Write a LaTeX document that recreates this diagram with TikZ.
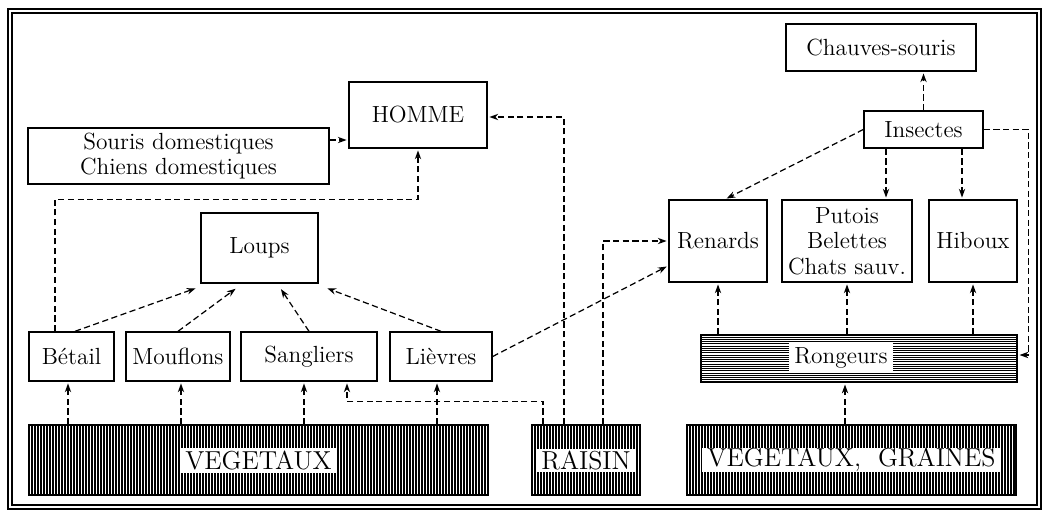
\documentclass[tikz,border=0pt]{standalone}
\usepackage{tikz}
\usetikzlibrary{arrows.meta}

\begin{document}
\begin{tikzpicture}[x=0.02cm,y=-0.02cm,
    font=\fontsize{13.3}{14.5}\selectfont,
    box/.style={draw,line width=0.8pt,align=center,inner sep=1pt},
    arr/.style={dash pattern=on 3.5pt off 2pt,line width=0.7pt,shorten >=1pt,
      -{Stealth[length=5pt,width=3.6pt]}},
    vhatch/.style={draw,line width=0.9pt,minimum height=1.4cm,
      path picture={\foreach \k in {1,...,160}
        \draw[line width=0.65pt] ([xshift=\k*0.06cm]path picture bounding box.south west)
          -- ([xshift=\k*0.06cm]path picture bounding box.north west);}},
    hhatch/.style={draw,line width=0.9pt,minimum height=0.94cm,
      path picture={\foreach \k in {1,...,20}
        \draw[line width=0.55pt] ([yshift=\k*0.045cm]path picture bounding box.south west)
          -- ([yshift=\k*0.045cm]path picture bounding box.south east);}},
    lbl/.style={fill=white,inner ysep=0pt,inner xsep=3pt},
    biglbl/.style={lbl,font=\fontsize{14.8}{16}\selectfont}]
  \useasboundingbox (0,0) rectangle (1050,514);
  % frame
  \draw[line width=1.3pt] (8,9) rectangle (1041,509);
  \draw[line width=0.6pt] (12,13) rectangle (1037,505);

  % left part
  \node[box,minimum width=2.76cm,minimum height=1.32cm] (homme) at (418,115) {HOMME};
  \node[box,minimum width=6.02cm,minimum height=1.12cm] (souris) at (178.5,156)
    {Souris domestiques\\Chiens domestiques};
  \node[box,minimum width=2.34cm,minimum height=1.4cm] (loups) at (259.5,248) {Loups};
  \node[box,minimum width=1.7cm,minimum height=0.98cm] (betail) at (71.5,356.5) {Bétail};
  \node[box,minimum width=2.08cm,minimum height=0.98cm] (mouflons) at (178,356.5) {Mouflons};
  \node[box,minimum width=2.72cm,minimum height=0.98cm] (sangliers) at (309,356.5) {Sangliers};
  \node[box,minimum width=2.04cm,minimum height=0.98cm] (lievres) at (441,356.5) {Lièvres};
  \node[vhatch,minimum width=9.18cm] (vegetaux) at (258.5,460) {};
  \node[biglbl,minimum height=0.5cm] (vegtxt) at (vegetaux) {VEGETAUX};
  \node[vhatch,minimum width=2.16cm] (raisin) at (586,460) {};
  \node[biglbl,minimum height=0.46cm] (raisintxt) at (raisin) {RAISIN};

  % right part
  \node[box,minimum width=3.8cm,minimum height=0.94cm] (chauves) at (881,47.5) {Chauves-souris};
  \node[box,minimum width=2.38cm,minimum height=0.74cm] (insectes) at (923.5,129.5) {Insectes};
  \node[box,minimum width=1.96cm,minimum height=1.64cm] (renards) at (718,241) {Renards};
  \node[box,minimum width=2.6cm,minimum height=1.64cm] (putois) at (847,241)
    {Putois\\Belettes\\Chats sauv.};
  \node[box,minimum width=1.76cm,minimum height=1.64cm] (hiboux) at (973,241) {Hiboux};
  \node[hhatch,minimum width=6.32cm] (rongeurs) at (859,358.5) {};
  \node[lbl,minimum width=2.08cm,minimum height=0.6cm] (rongtxt) at (841,358) {Rongeurs};
  \node[vhatch,minimum width=6.58cm] (graines) at (851.5,460) {};
  \node[biglbl,minimum height=0.46cm] (grainestxt) at (graines) {VEGETAUX,\ \ GRAINES};

  % arrows, left
  \draw[arr] ([yshift=0.32cm]souris.east) -- ([yshift=0.32cm]souris.east -| homme.west);
  \draw[arr] ([xshift=-0.33cm]betail.north) -- ++(0,-132) -| (homme.south);
  \draw[arr] ([xshift=0.07cm]betail.north) -- ([shift={(-0.06cm,-0.08cm)}]loups.south west);
  \draw[arr] (mouflons.north) -- ([shift={(-0.45cm,-0.08cm)}]loups.south);
  \draw[arr] (sangliers.north) -- ([shift={(0.41cm,-0.08cm)}]loups.south);
  \draw[arr] (lievres.north) -- ([shift={(0.14cm,-0.08cm)}]loups.south east);
  \draw[arr] ([xshift=-0.07cm]betail.south |- vegetaux.north) -- ([xshift=-0.07cm]betail.south);
  \draw[arr] ([xshift=0.06cm]mouflons.south |- vegetaux.north) -- ([xshift=0.06cm]mouflons.south);
  \draw[arr] ([xshift=-0.1cm]sangliers.south |- vegetaux.north) -- ([xshift=-0.1cm]sangliers.south);
  \draw[arr] ([xshift=-0.08cm]lievres.south |- vegetaux.north) -- ([xshift=-0.08cm]lievres.south);
  \draw[arr] ([xshift=-0.86cm]raisin.north) -- ++(0,-23) -| ([xshift=0.76cm]sangliers.south);
  \draw[arr] ([xshift=-0.44cm]raisin.north) |- ([yshift=-0.04cm]homme.east);
  \draw[arr] ([xshift=0.34cm]raisin.north) |- (renards.west);
  \draw[arr] (lievres.east) -- ([yshift=0.34cm]renards.south west);

  % arrows, right
  \draw[arr] (insectes.west) -- ([xshift=0.14cm]renards.north);
  \draw[arr] ([xshift=-0.75cm]insectes.south) -- ([xshift=-0.75cm]insectes.south |- putois.north);
  \draw[arr] ([xshift=0.77cm]insectes.south) -- ([xshift=0.77cm]insectes.south |- hiboux.north);
  \draw[arr] (insectes.north) -- (insectes.north |- chauves.south);
  \draw[arr] (insectes.east) -- ++(45,0) |- ([yshift=0.07cm]rongeurs.east);
  \draw[arr] (renards.south |- rongeurs.north) -- (renards.south);
  \draw[arr] (putois.south |- rongeurs.north) -- (putois.south);
  \draw[arr] (hiboux.south |- rongeurs.north) -- (hiboux.south);
  \draw[arr] ([xshift=-0.28cm]rongeurs.south |- graines.north) -- ([xshift=-0.28cm]rongeurs.south);
\end{tikzpicture}
\end{document}
